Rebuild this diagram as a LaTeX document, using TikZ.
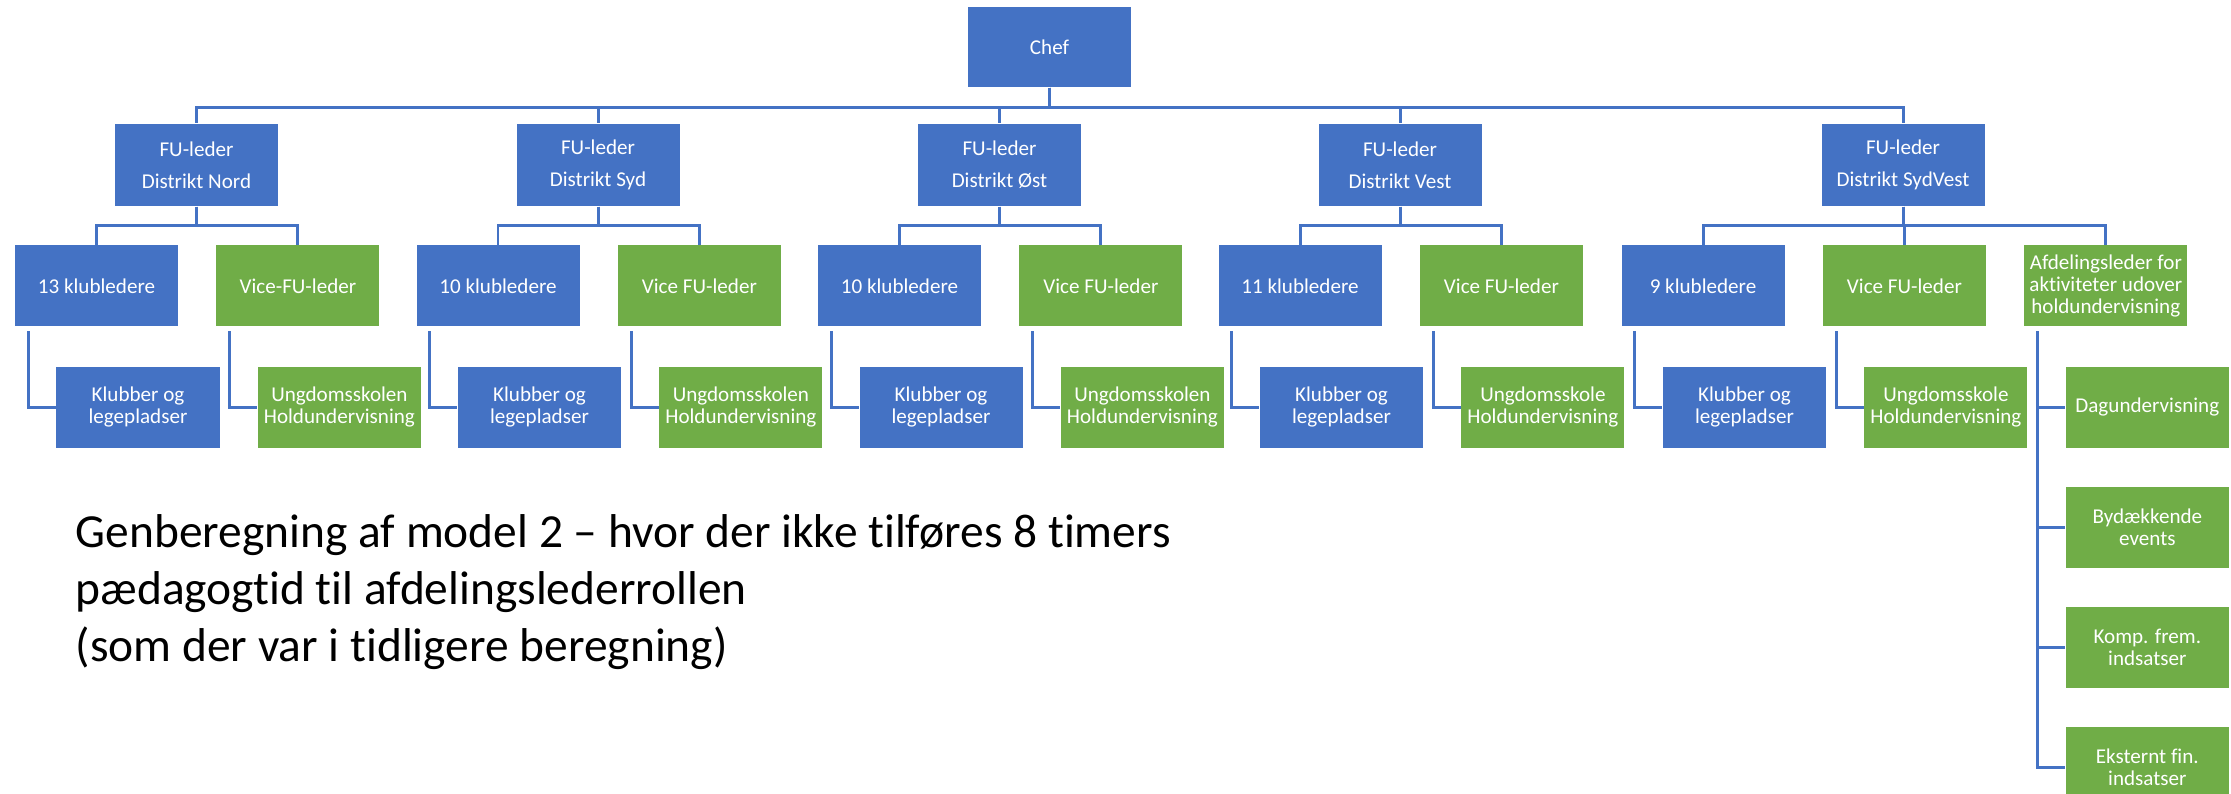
\documentclass[tikz,border=0pt]{standalone}
\usepackage{fontspec}
\setmainfont{Carlito}[Ligatures=NoCommon]
\usetikzlibrary{positioning}
\definecolor{chartblue}{HTML}{4472C4}
\definecolor{chartgreen}{HTML}{70AD47}

\begin{document}
\begin{tikzpicture}[
    box/.style={rectangle, minimum width=1.63cm, minimum height=0.81cm, inner sep=1pt,
        text=white, align=center, font=\fontsize{6}{6.3}\selectfont},
    blue box/.style={box, fill=chartblue},
    green box/.style={box, fill=chartgreen},
    link/.style={draw=chartblue, line width=0.85pt}]
\useasboundingbox (0,0) rectangle (22.31,-7.94);

\node[blue box, minimum height=0.8cm] (chef) at (10.495,-0.47) {Chef};

% FU-ledere
\node[blue box, minimum height=0.82cm] (d1) at (1.965,-1.65) {FU-leder\\[2.9pt]Distrikt Nord};
\node[blue box, minimum height=0.82cm] (d2) at (5.98,-1.65) {FU-leder\\[2.9pt]Distrikt Syd};
\node[blue box, minimum height=0.82cm] (d3) at (9.995,-1.65) {FU-leder\\[2.9pt]Distrikt Øst};
\node[blue box, minimum height=0.82cm] (d4) at (14.0,-1.65) {FU-leder\\[2.9pt]Distrikt Vest};
\node[blue box, minimum height=0.82cm] (d5) at (19.03,-1.65) {FU-leder\\[2.9pt]Distrikt SydVest};

\node[blue box] (k1) [below=0.38cm of d1, xshift=-1cm] {13 klubledere};
\node[green box] (v1) [right=0.37cm of k1] {Vice-FU-leder};
\node[blue box] (k2) [below=0.38cm of d2, xshift=-1cm] {10 klubledere};
\node[green box] (v2) [right=0.37cm of k2] {Vice FU-leder};
\node[blue box] (k3) [below=0.38cm of d3, xshift=-1cm] {10 klubledere};
\node[green box] (v3) [right=0.37cm of k3] {Vice FU-leder};
\node[blue box] (k4) [below=0.38cm of d4, xshift=-1cm] {11 klubledere};
\node[green box] (v4) [right=0.37cm of k4] {Vice FU-leder};
\node[blue box] (k5) [below=0.38cm of d5, xshift=-2cm] {9 klubledere};
\node[green box] (v5) [right=0.37cm of k5] {Vice FU-leder};
\node[green box] (a5) [right=0.37cm of v5] {Afdelingsleder for\\aktiviteter udover\\holdundervisning};

\node[blue box] (c1) [below=0.39cm of k1, xshift=4.15mm] {Klubber og\\legepladser};
\node[green box] (u1) [below=0.39cm of v1, xshift=4.15mm] {Ungdomsskolen\\Holdundervisning};
\node[blue box] (c2) [below=0.39cm of k2, xshift=4.15mm] {Klubber og\\legepladser};
\node[green box] (u2) [below=0.39cm of v2, xshift=4.15mm] {Ungdomsskolen\\Holdundervisning};
\node[blue box] (c3) [below=0.39cm of k3, xshift=4.15mm] {Klubber og\\legepladser};
\node[green box] (u3) [below=0.39cm of v3, xshift=4.15mm] {Ungdomsskolen\\Holdundervisning};
\node[blue box] (c4) [below=0.39cm of k4, xshift=4.15mm] {Klubber og\\legepladser};
\node[green box] (u4) [below=0.39cm of v4, xshift=4.15mm] {Ungdomsskole\\Holdundervisning};
\node[blue box] (c5) [below=0.39cm of k5, xshift=4.15mm] {Klubber og\\legepladser};
\node[green box] (u5) [below=0.39cm of v5, xshift=4.15mm] {Ungdomsskole\\Holdundervisning};

\node[green box] (e1) [below=0.39cm of a5, xshift=4.15mm] {Dagundervisning};
\node[green box] (e2) [below=0.375cm of e1] {Bydækkende\\events};
\node[green box] (e3) [below=0.375cm of e2] {Komp. frem.\\indsatser};
\node[green box] (e4) [below=0.375cm of e3] {Eksternt fin.\\indsatser};

\node[anchor=base west, align=left, inner sep=0, font=\fontsize{13.5}{16.2}\selectfont] (note) at (0.75,-6.61)
    {Genberegning af model 2 – hvor der ikke tilføres 8 timers\\pædagogtid til afdelingslederrollen\\(som der var i tidligere beregning)};

\foreach \t in {d1,d2,d3,d4,d5} {
    \path[link] (chef.south) -- ++(0,-0.2) -| (\t.north);}
\foreach \s/\t in {d1/k1, d1/v1, d2/k2, d2/v2, d3/k3, d3/v3, d4/k4, d4/v4, d5/k5, d5/v5, d5/a5} {
    \path[link] (\s.south) -- ++(0,-0.19) -| (\t.north);}
\foreach \s/\t in {k1/c1, v1/u1, k2/c2, v2/u2, k3/c3, v3/u3, k4/c4, v4/u4, k5/c5, v5/u5, a5/e1, a5/e2, a5/e3, a5/e4} {
    \path[link] ([xshift=1.4mm, yshift=-0.4mm]\s.south west) |- (\t.west);}
\end{tikzpicture}
\end{document}
